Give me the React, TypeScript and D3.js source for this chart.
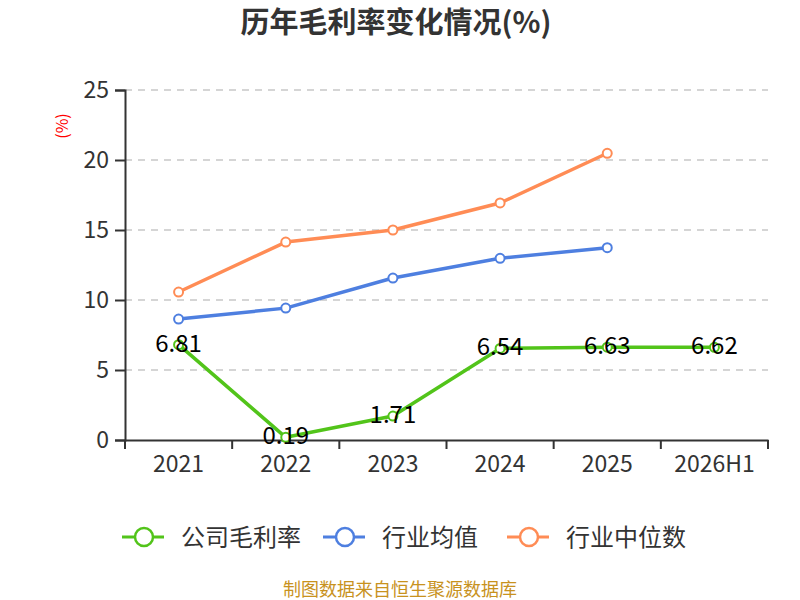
import { useEffect, useRef } from 'react';
import * as d3 from 'd3';

const categories = ['2021', '2022', '2023', '2024', '2025', '2026H1'];
const companyValues = [6.81, 0.19, 1.71, 6.54, 6.63, 6.62];
const industryAvg = [8.64, 9.42, 11.57, 12.98, 13.74];
const industryMedian = [10.57, 14.14, 15.0, 16.93, 20.48];
const yTicks = [0, 5, 10, 15, 20, 25];

const seriesNames = ['公司毛利率', '行业均值', '行业中位数'];
const seriesColors = ['#52c41a', '#4e7fe0', '#ff8c55'];

const FONT = '"Noto Sans CJK SC", "Noto Sans", sans-serif';

export default function App() {
  const svgRef = useRef<SVGSVGElement>(null);

  useEffect(() => {
    if (!svgRef.current) return;
    const svg = d3.select(svgRef.current);
    svg.selectAll('*').remove();

    const width = 800;
    const height = 600;
    const margin = { top: 90, right: 32, bottom: 160, left: 125 };
    const innerW = width - margin.left - margin.right;
    const innerH = height - margin.top - margin.bottom;

    const x = d3.scaleBand<string>().domain(categories).range([0, innerW]);
    const y = d3.scaleLinear().domain([0, 25]).range([innerH, 0]);
    const cx = (c: string) => (x(c) ?? 0) + x.bandwidth() / 2;

    // title
    svg.append('text')
      .attr('x', 396)
      .attr('y', 33)
      .attr('text-anchor', 'middle')
      .style('font-family', FONT)
      .style('font-size', '29px')
      .style('font-weight', 'bold')
      .style('fill', '#333')
      .text('历年毛利率变化情况(%)');

    // y axis unit
    svg.append('text')
      .attr('transform', 'translate(62,126) rotate(-90)')
      .attr('text-anchor', 'middle')
      .attr('dy', '0.35em')
      .style('font-family', FONT)
      .style('font-size', '16px')
      .style('fill', '#ff0000')
      .text('(%)');

    const g = svg.append('g').attr('transform', `translate(${margin.left},${margin.top})`);

    // grid lines
    g.selectAll('.grid')
      .data(yTicks.filter(t => t > 0))
      .enter().append('line')
      .attr('x1', 0)
      .attr('x2', innerW)
      .attr('y1', d => y(d))
      .attr('y2', d => y(d))
      .attr('stroke', '#c8c8c8')
      .attr('stroke-width', 1.5)
      .attr('stroke-dasharray', '7,6');

    // y axis
    const yAxis = g.append('g')
      .call(d3.axisLeft(y).tickValues(yTicks).tickSize(10).tickPadding(6));
    yAxis.select('.domain').attr('stroke', '#333').attr('stroke-width', 2);
    yAxis.selectAll('.tick line').attr('stroke', '#333').attr('stroke-width', 2);
    yAxis.selectAll('.tick text')
      .style('font-family', FONT)
      .style('font-size', '23px')
      .style('fill', '#333');

    // x axis
    const xAxis = g.append('g')
      .attr('transform', `translate(0,${innerH})`)
      .call(d3.axisBottom(x).tickSize(0).tickPadding(16));
    xAxis.select('.domain').attr('stroke', '#333').attr('stroke-width', 2);
    xAxis.selectAll('.tick text')
      .style('font-family', FONT)
      .style('font-size', '23px')
      .style('fill', '#333');
    // boundary ticks between bands
    const bounds = categories.map(c => x(c) ?? 0).concat([innerW]);
    xAxis.selectAll('.bound')
      .data(bounds)
      .enter().append('line')
      .attr('x1', d => d)
      .attr('x2', d => d)
      .attr('y1', 0)
      .attr('y2', 9)
      .attr('stroke', '#333')
      .attr('stroke-width', 2);

    const line = d3.line<[string, number]>()
      .x(d => cx(d[0]))
      .y(d => y(d[1]));

    const seriesData: [string, number][][] = [
      companyValues.map((v, i) => [categories[i], v]),
      industryAvg.map((v, i) => [categories[i], v]),
      industryMedian.map((v, i) => [categories[i], v]),
    ];

    // draw in order: median, avg, company on top
    [2, 1, 0].forEach(si => {
      const data = seriesData[si];
      g.append('path')
        .datum(data)
        .attr('fill', 'none')
        .attr('stroke', seriesColors[si])
        .attr('stroke-width', 3.5)
        .attr('stroke-linejoin', 'round')
        .attr('d', line);
      g.selectAll(`.pt-${si}`)
        .data(data)
        .enter().append('circle')
        .attr('cx', d => cx(d[0]))
        .attr('cy', d => y(d[1]))
        .attr('r', 4.5)
        .attr('fill', '#fff')
        .attr('stroke', seriesColors[si])
        .attr('stroke-width', 2);
    });

    // company value labels
    g.selectAll('.lbl')
      .data(seriesData[0])
      .enter().append('text')
      .attr('x', d => cx(d[0]))
      .attr('y', d => y(d[1]) + 7)
      .attr('text-anchor', 'middle')
      .style('font-family', FONT)
      .style('font-size', '24px')
      .style('fill', '#000')
      .text(d => d[1].toFixed(2));

    // legend
    const legendX = [122, 323, 507];
    const legendY = 537;
    seriesNames.forEach((name, i) => {
      const lg = svg.append('g').attr('transform', `translate(${legendX[i]},${legendY})`);
      lg.append('line')
        .attr('x1', 0).attr('x2', 42)
        .attr('y1', 0).attr('y2', 0)
        .attr('stroke', seriesColors[i])
        .attr('stroke-width', 3);
      lg.append('circle')
        .attr('cx', 22).attr('cy', 0).attr('r', 9)
        .attr('fill', '#fff')
        .attr('stroke', seriesColors[i])
        .attr('stroke-width', 2.5);
      lg.append('text')
        .attr('x', 59)
        .attr('y', 0)
        .attr('dy', '0.36em')
        .style('font-family', FONT)
        .style('font-size', '24px')
        .style('fill', '#333')
        .text(name);
    });

    // footer
    svg.append('text')
      .attr('x', 400)
      .attr('y', 596)
      .attr('text-anchor', 'middle')
      .style('font-family', FONT)
      .style('font-size', '18px')
      .style('fill', '#c8921e')
      .text('制图数据来自恒生聚源数据库');
  }, []);

  return (
    <div style={{ position: 'absolute', left: 0, top: 0 }}>
      <svg ref={svgRef} width={800} height={600} style={{ display: 'block', background: '#fff' }} />
    </div>
  );
}
